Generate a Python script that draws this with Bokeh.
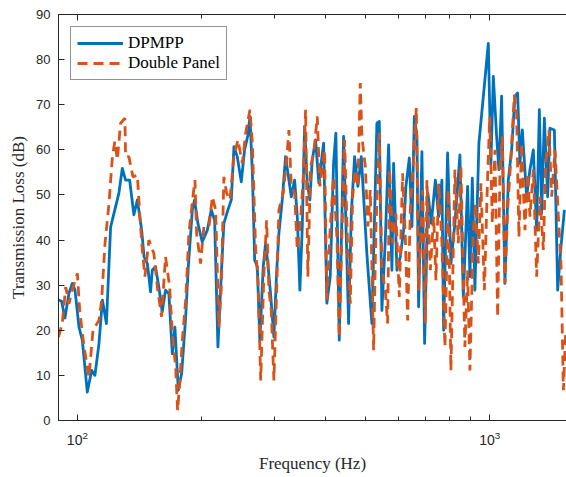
from bokeh.plotting import figure
from bokeh.models import Range1d, LogAxis, Legend, LegendItem, FixedTicker, LogTickFormatter
from bokeh.embed import file_html
from bokeh.resources import INLINE

# DPMPP (solid blue)
freq_dpmpp = [90, 91.6, 93.3, 95.4, 97.2, 98.7, 100.9, 102.8, 105.7, 108.3, 110.3, 112.8, 115.0, 117.6,
              120.4, 123.8, 126.1, 128.5, 130.9, 133.9, 137.1, 139.8, 143.2, 145.1, 147.8, 150.5, 151.9,
              154.7, 157.6, 160.6, 163.6, 166.7, 169.9, 172.4, 175.7, 179.0, 183.1, 185.8, 190.0, 192.4,
              196.0, 200.8, 206.6, 211.2, 215.2, 219.2, 223.4, 226.6, 231.8, 236.2, 239.7, 244.2, 249.7,
              254.4, 259.2, 262.1, 265.7, 269.1, 273.1, 277.0, 282.3, 286.0, 289.7, 294.1, 299.6, 304.1,
              308.1, 313.9, 319.8, 325.8, 330.2, 336.4, 341.4, 346.4, 351.1, 355.6, 361.0, 366.2, 371.2,
              378.1, 385.1, 395.4, 402.7, 410.4, 418.1, 423.5, 431.6, 442.1, 454.7, 461.6, 470.2, 478.9,
              488.1, 503.5, 517.8, 532.5, 539.7, 547.6, 558.1, 568.5, 579.1, 584.6, 595.5, 606.9, 618.2,
              626.2, 638.2, 647.6, 656.3, 665.9, 672.2, 684.7, 695.1, 708.1, 721.6, 738.0, 751.7, 765.6,
              772.9, 790.3, 805.0, 823.2, 846.5, 862.7, 883.7, 895.1, 907.2, 920.4, 941.3, 955.6, 973.4,
              992.0, 1006.5, 1020.1, 1039.1, 1052.5, 1068.5, 1088.4, 1109.2, 1129.9, 1150.9, 1168.4,
              1183.5, 1199.5, 1228.8, 1251.6, 1275.6, 1299.3, 1319.1, 1336.1, 1356.4, 1381.6, 1399.5,
              1434.4, 1461.1, 1488.4, 1517.2]
tl_dpmpp = [26.7, 26.4, 22.7, 28.2, 30.4, 28.9, 20.7, 17.8, 6.3, 11.1, 10.0, 17.0, 26.7, 21.5,
            42.9, 47.4, 50.4, 55.9, 53.3, 53.3, 45.6, 48.9, 42.2, 36.3, 34.8, 28.5, 33.3,
            34.1, 29.6, 24.1, 28.9, 28.1, 14.8, 20.7, 6.7, 10.4, 23.0, 34.1, 46.7, 48.9,
            43.7, 39.6, 42.2, 46.7, 44.4, 16.3, 32.6, 43.7, 46.7, 48.9, 60.7, 58.5, 52.9,
            60.0, 63.3, 67.4, 54.8, 35.6, 34.1, 17.8, 34.1, 39.3, 34.8, 28.1, 18.5, 32.6,
            41.5, 48.9, 58.5, 53.3, 49.6, 53.3, 45.2, 28.9, 43.0, 65.2, 52.6, 48.9, 57.8,
            62.2, 52.6, 61.5, 26.0, 31.9, 57.0, 63.7, 17.8, 63.0, 21.5, 45.9, 58.5, 51.9,
            58.5, 37.0, 21.5, 65.9, 66.3, 24.4, 40.0, 61.1, 33.3, 57.0, 33.3, 36.3, 42.2,
            51.9, 58.2, 43.0, 67.4, 63.0, 25.2, 59.6, 17.1, 50.4, 43.7, 53.3, 45.2, 53.3,
            20.0, 59.3, 34.8, 43.7, 58.9, 27.4, 51.9, 31.9, 53.7, 28.9, 61.5, 67.8, 75.6,
            83.6, 57.0, 76.3, 63.0, 55.6, 71.9, 30.4, 53.3, 60.0, 71.9, 72.6,
            57.0, 64.4, 49.6, 55.6, 60.0, 42.2, 68.9, 45.9, 67.0, 49.6, 64.8,
            64.4, 28.9, 38.5, 46.7]

# Double Panel (dashed orange)
freq_dp = [90, 91.9, 93.7, 95.4, 97.2, 100.0, 101.3, 103.8, 106.7, 109.1, 112.8, 114.5, 116.7, 119.3,
           121.6, 123.3, 125.0, 127.3, 130.4, 130.9, 133.3, 136.4, 139.8, 141.6, 143.7, 145.8, 149.1,
           153.3, 156.3, 160.0, 163.6, 167.4, 169.9, 173.1, 175.0, 177.0, 179.7, 183.1, 186.4, 190.6,
           192.8, 194.6, 199.0, 202.7, 208.5, 212.5, 216.4, 220.4, 223.4, 226.6, 230.1, 234.4, 239.7,
           245.1, 251.2, 255.9, 262.1, 265.7, 270.6, 274.2, 278.3, 283.4, 287.7, 291.4, 295.2, 299.6,
           304.1, 308.1, 315.6, 321.6, 325.8, 330.2, 336.4, 341.4, 347.7, 353.0, 357.6, 362.2, 367.7,
           374.5, 381.7, 387.3, 397.6, 402.7, 410.4, 418.1, 425.9, 431.6, 437.9, 444.6, 452.9, 459.0,
           465.0, 472.1, 478.9, 485.3, 489.7, 499.1, 506.4, 513.2, 522.8, 529.6, 539.7, 547.6, 558.1,
           565.3, 571.7, 581.4, 592.2, 603.5, 614.7, 624.1, 632.2, 641.8, 653.8, 663.7, 672.2, 687.4,
           697.8, 704.1, 717.6, 731.1, 740.5, 751.7, 765.6, 778.6, 793.4, 805.0, 823.2, 839.0, 851.2,
           870.4, 883.7, 895.1, 912.3, 924.0, 938.1, 951.9, 970.4, 988.7, 1000.1, 1014.4, 1029.4,
           1045.1, 1058.6, 1072.7, 1088.4, 1104.9, 1123.5, 1147.1, 1161.9, 1176.8, 1194.8, 1217.2,
           1235.9, 1251.6, 1275.6, 1299.3, 1323.5, 1348.9, 1366.4, 1391.8, 1413.2, 1439.7, 1466.8,
           1488.4, 1508.7, 1528.4]
tl_dp = [18.5, 21.5, 29.6, 25.9, 28.9, 32.6, 24.4, 16.3, 9.6, 20.0, 22.2, 26.7, 39.3, 48.1,
         58.5, 61.9, 57.8, 65.9, 67.0, 58.5, 58.5, 54.0, 54.4, 45.9, 37.8, 31.9, 40.0,
         37.0, 29.6, 23.0, 36.3, 29.6, 19.3, 11.9, 2.2, 8.1, 17.8, 26.7, 41.5, 49.6,
         53.3, 41.5, 34.8, 43.0, 43.0, 49.6, 46.7, 20.7, 29.6, 54.0, 50.4, 48.9, 58.5,
         62.2, 57.0, 63.7, 68.9, 61.5, 37.8, 31.1, 8.9, 32.6, 44.4, 28.9, 24.4, 8.9,
         28.1, 46.7, 50.4, 57.8, 64.4, 51.9, 50.4, 37.8, 44.4, 54.0, 68.9, 31.9, 56.3,
         59.3, 67.4, 51.9, 60.0, 26.7, 43.0, 54.0, 40.7, 18.5, 40.7, 62.2, 36.3, 25.9,
         49.6, 55.6, 51.9, 74.8, 63.0, 56.3, 43.0, 51.1, 15.6, 42.2, 63.7, 33.3, 28.9,
         21.5, 55.6, 39.3, 45.9, 27.4, 54.8, 40.7, 22.2, 46.7, 58.5, 69.3, 28.9, 51.1,
         21.5, 53.3, 33.3, 45.2, 31.1, 52.6, 39.3, 16.3, 51.1, 11.1, 55.6, 39.3, 56.3,
         16.3, 33.3, 11.1, 42.2, 48.1, 34.8, 52.6, 28.9, 54.8, 67.4, 43.7, 60.0,
         22.9, 55.6, 63.0, 30.4, 46.7, 57.0, 72.2, 68.2, 40.7, 61.5, 42.2,
         54.8, 45.2, 55.6, 31.9, 49.6, 37.8, 57.0, 64.4, 49.6, 60.0, 45.2,
         34.8, 6.7, 20.0]

y_ticks = [0, 10, 20, 30, 40, 50, 60, 70, 80, 90]
x_major_ticks = [100, 1000]
x_minor_ticks = [90, 200, 300, 400, 500, 600, 700, 800, 900]

AX = "#262626"

p = figure(width=566, height=477, x_axis_type="log",
           x_range=Range1d(90, 1535), y_range=Range1d(0, 90),
           output_backend="svg", toolbar_location=None,
           min_border_left=58, min_border_right=0, min_border_top=14, min_border_bottom=57,
           x_axis_label="Frequency (Hz)", y_axis_label="Transmission Loss (dB)")
p.outline_line_color = None
p.xgrid.grid_line_color = None
p.ygrid.grid_line_color = None
p.background_fill_color = "white"

r1 = p.line(freq_dpmpp, tl_dpmpp, line_color="#0072BD", line_width=2.8, line_join="round")
r2 = p.line(freq_dp, tl_dp, line_color="#D95319", line_width=2.8, line_dash="10 6")

for ax in [p.xaxis[0], p.yaxis[0]]:
    ax.axis_line_color = AX
    ax.axis_line_width = 1
    ax.major_tick_line_color = AX
    ax.minor_tick_line_color = AX
    ax.major_tick_in = 6
    ax.major_tick_out = 0
    ax.minor_tick_in = 4
    ax.minor_tick_out = 0
    ax.major_label_text_font = "Liberation Sans"
    ax.major_label_text_color = AX
    ax.axis_label_text_font = "Liberation Serif"
    ax.axis_label_text_font_style = "normal"
    ax.axis_label_text_font_size = "17px"
    ax.axis_label_text_color = AX

p.yaxis[0].ticker = FixedTicker(ticks=y_ticks)
p.yaxis[0].minor_tick_line_color = None
p.yaxis[0].major_label_text_font_size = "13px"
p.yaxis[0].major_label_standoff = 8
p.yaxis[0].axis_label_standoff = 5

x_ticker = FixedTicker(ticks=x_major_ticks, minor_ticks=x_minor_ticks)
p.xaxis[0].ticker = x_ticker
p.xaxis[0].formatter = LogTickFormatter()
p.xaxis[0].major_label_text_font_size = "14px"
p.xaxis[0].major_label_standoff = 10
p.xaxis[0].axis_label_standoff = 6

top = LogAxis(ticker=x_ticker, axis_line_color=AX, major_tick_line_color=AX,
              minor_tick_line_color=AX, major_tick_in=6, major_tick_out=0,
              minor_tick_in=4, minor_tick_out=0,
              major_label_overrides={100: "", 1000: ""},
              major_label_standoff=0)
p.add_layout(top, "above")

legend = Legend(items=[LegendItem(label="DPMPP", renderers=[r1]),
                       LegendItem(label="Double Panel", renderers=[r2])],
                location="top_left", margin=12, padding=6, spacing=0,
                glyph_width=46, glyph_height=16, label_height=16, label_standoff=5,
                label_text_font="Liberation Serif", label_text_font_size="17px",
                label_text_color="#000000",
                border_line_color=AX, border_line_width=1,
                background_fill_color="white", background_fill_alpha=1)
p.add_layout(legend)

open("out.html", "w").write(file_html(p, INLINE))
